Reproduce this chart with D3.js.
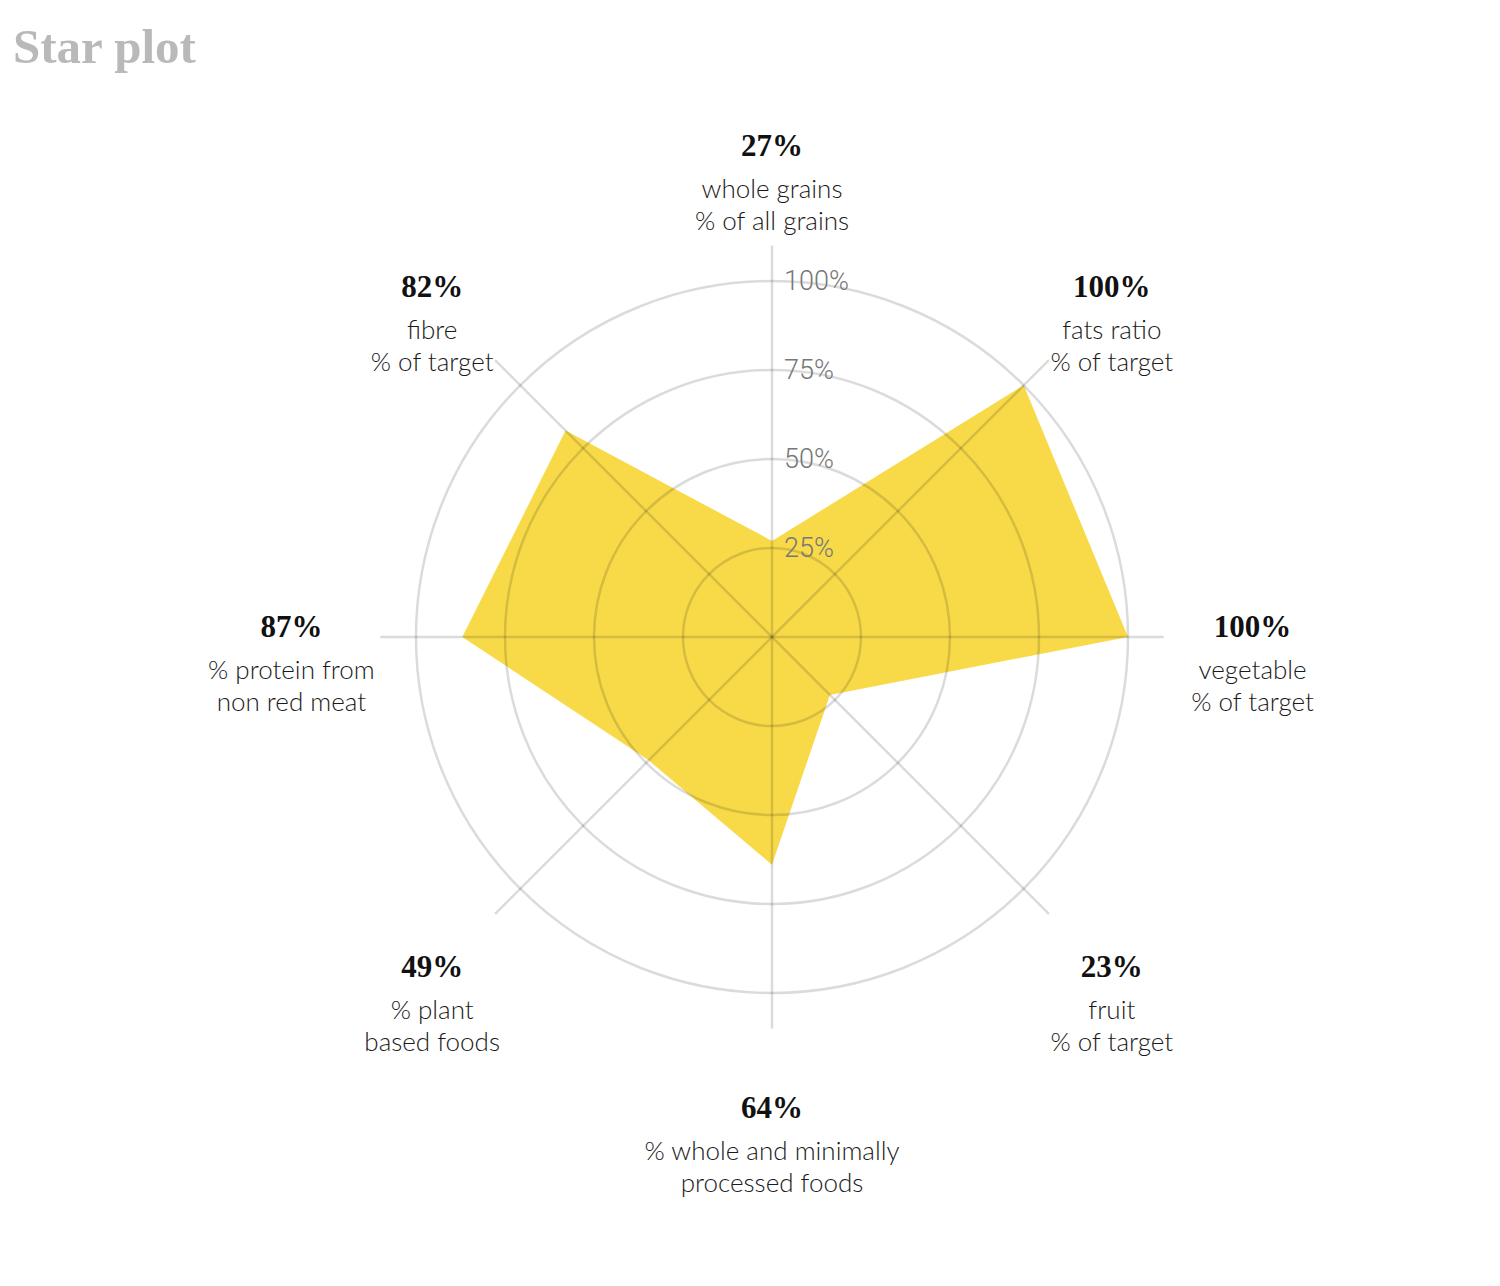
<!DOCTYPE html>
<html>
<head>
<meta charset="utf-8">
<script src="https://cdn.jsdelivr.net/npm/d3@7"></script>
<style>
  body { margin: 0; background: #fff; }
  .title { font-family: "Liberation Serif", serif; font-weight: bold; font-size: 49px; fill: #b9b9b9; }
  .val { font-family: "Liberation Serif", serif; font-weight: bold; font-size: 31px; fill: #111; }
  .lbl { font-family: Lato, sans-serif; font-weight: 300; font-size: 26px; fill: #1a1a1a; }
  .tick { font-family: Roboto, sans-serif; font-weight: 300; font-size: 27px; fill: #777; }
</style>
</head>
<body>
<svg width="1500" height="1286"></svg>
<script>
// axes, clockwise from the top
const axes = ["whole grains", "fats ratio", "vegetable", "fruit",
    "processed", "plant", "protein", "fibre"];
const values = [27, 100, 100, 23, 64, 49, 87, 82];
const labelLines = [
    ["whole grains", "% of all grains"],
    ["fats ratio", "% of target"],
    ["vegetable", "% of target"],
    ["fruit", "% of target"],
    ["% whole and minimally", "processed foods"],
    ["% plant", "based foods"],
    ["% protein from", "non red meat"],
    ["fibre", "% of target"]
];
const ticks = [25, 50, 75, 100];

const svg = d3.select("svg");
const cx = 772, cy = 637, R = 356;

svg.append("text")
    .attr("class", "title")
    .attr("x", 13)
    .attr("y", 63)
    .text("Star plot");

const g = svg.append("g").attr("transform", `translate(${cx},${cy})`);

const r = d3.scaleLinear().domain([0, 100]).range([0, R]);
const angle = d3.scalePoint().domain(axes).range([0, 2 * Math.PI * 7 / 8]);

// polygon
const radial = d3.lineRadial()
    .angle(d => angle(d.axis))
    .radius(d => r(d.value))
    .curve(d3.curveLinearClosed);

g.append("path")
    .datum(axes.map((a, i) => ({ axis: a, value: values[i] })))
    .attr("d", radial)
    .attr("fill", "#f7d52e")
    .attr("fill-opacity", 0.87);

// grid on top, translucent so it shows through the fill
g.append("g")
    .selectAll("circle")
    .data(ticks)
    .enter().append("circle")
    .attr("r", d => r(d))
    .attr("fill", "none")
    .attr("stroke", "rgba(0,0,0,0.14)")
    .attr("stroke-width", 2.5);

g.append("g")
    .selectAll("line")
    .data(axes)
    .enter().append("line")
    .attr("x1", 0).attr("y1", 0)
    .attr("x2", d => Math.sin(angle(d)) * r(110))
    .attr("y2", d => -Math.cos(angle(d)) * r(110))
    .attr("stroke", "rgba(0,0,0,0.14)")
    .attr("stroke-width", 2.5);

g.append("g")
    .selectAll("text")
    .data(ticks)
    .enter().append("text")
    .attr("class", "tick")
    .attr("x", 12)
    .attr("y", d => -r(d))
    .attr("dy", "0.35em")
    .text(d => d + "%");

// labels
const lab = g.append("g")
    .selectAll("g")
    .data(axes)
    .enter().append("g")
    .attr("transform", d => `translate(${Math.sin(angle(d)) * r(135)},${-Math.cos(angle(d)) * r(135)})`);

lab.append("text")
    .attr("class", "val")
    .attr("text-anchor", "middle")
    .text((d, i) => values[i] + "%");

lab.each(function (d, i) {
    d3.select(this).selectAll("text.lbl")
        .data(labelLines[i])
        .enter().append("text")
        .attr("class", "lbl")
        .attr("text-anchor", "middle")
        .attr("y", (t, j) => 42 + j * 32)
        .text(t => t);
});
</script>
</body>
</html>
